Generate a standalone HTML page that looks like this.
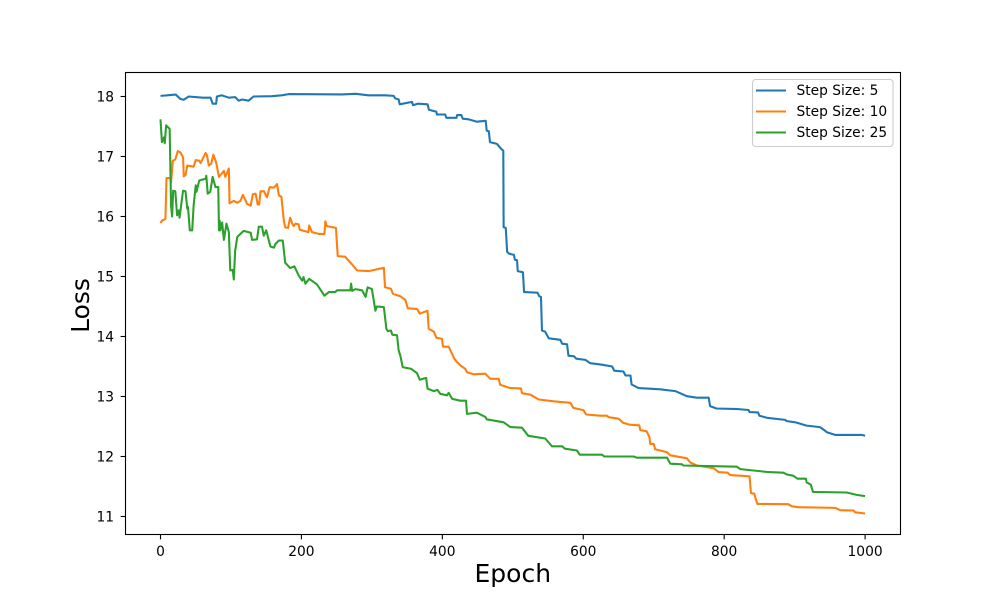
<!DOCTYPE html>
<html>
<head>
<meta charset="utf-8">
<title>Loss vs Epoch</title>
<style>
html,body{margin:0;padding:0;background:#fff;width:1000px;height:600px;overflow:hidden}
svg{display:block}
text{font-family:"DejaVu Sans","Liberation Sans",sans-serif;fill:#000}
</style>
</head>
<body>
<svg id="chart" xmlns="http://www.w3.org/2000/svg" width="1000" height="600" viewBox="0 0 1000 600">
  <rect x="0" y="0" width="1000" height="600" fill="#fff"/>
  <g id="series"></g>
  <g id="ticks"></g>
  <rect x="125.5" y="72.5" width="775" height="462" fill="none" stroke="#000" stroke-width="1.1"/>
  <text x="512.8" y="582" font-size="25" text-anchor="middle">Epoch</text>
  <text transform="translate(89 305.5) rotate(-90)" font-size="25" text-anchor="middle">Loss</text>
  <g id="legend">
    <rect x="752.5" y="79.5" width="140.5" height="67" rx="3" fill="#fff" fill-opacity="0.8" stroke="#ccc" stroke-width="1.1"/>
    <g>
      <line x1="756" x2="786" y1="90.5" y2="90.5" stroke="#1f77b4" stroke-width="2.08"/>
      <text x="796.5" y="95" font-size="13.8">Step Size: 5</text>
    </g>
    <g>
      <line x1="756" x2="786" y1="111.5" y2="111.5" stroke="#ff7f0e" stroke-width="2.08"/>
      <text x="796.5" y="116" font-size="13.8">Step Size: 10</text>
    </g>
    <g>
      <line x1="756" x2="786" y1="132.5" y2="132.5" stroke="#2ca02c" stroke-width="2.08"/>
      <text x="796.5" y="137" font-size="13.8">Step Size: 25</text>
    </g>
  </g>
</svg>
<script>
const xTickValues = [0, 200, 400, 600, 800, 1000];
const yTickValues = [11, 12, 13, 14, 15, 16, 17, 18];

const blueEpochs = [0,10,19,22,28,33,40,60,71,74,79,80,87,97,106,111,116,125,132,158,172,182,258,277,295,319,331,333,338,339.5,357,358.4,365,379,381,391.5,392.4,404,405.7,420,421,427,429,437,449,461.5,463,466,467.6,477.5,484,486.5,487,490,492,495,501.6,503,506,507,514.4,516,535,537.6,540,541.4,546,551,567.4,570,577,579,587,590,603,610,626.5,641,644,657,660,667,668.6,678.6,709,730.6,747,761,778,780,789,820,834.6,836,848,850,860.6,886.6,889,900.8,917,936,942,945.7,957.5,995,1000];
const blueLoss = [18.01,18.02,18.03,18.03,17.96,17.945,18.0,17.98,17.98,17.88,17.88,18.0,18.02,17.98,17.99,17.93,17.95,17.93,18.0,18.005,18.02,18.04,18.035,18.045,18.02,18.02,18.01,17.97,17.95,17.87,17.91,17.855,17.88,17.87,17.78,17.745,17.7,17.7,17.645,17.645,17.69,17.69,17.63,17.62,17.58,17.595,17.43,17.42,17.24,17.21,17.12,17.1,15.82,15.81,15.41,15.38,15.36,15.28,15.27,15.09,15.07,14.74,14.73,14.67,14.66,14.1,14.08,13.97,13.945,13.88,13.87,13.68,13.67,13.63,13.61,13.555,13.53,13.5,13.43,13.417,13.35,13.35,13.2,13.14,13.12,13.09,13.005,12.98,12.98,12.84,12.8,12.79,12.775,12.74,12.735,12.68,12.645,12.61,12.59,12.57,12.515,12.49,12.44,12.405,12.36,12.36,12.345];

const orangeEpochs = [0,2,7,8.5,14,15,17.5,21,24.6,28,32,33,35.5,38,47,50,55,57,64,66,68.5,72,75,79,83,90,92,97,98,104,109,113.5,117,123,128,131,135,138,140,142,147,151,155,161,165.5,168,171.6,175,177,181,184,187,189,191.5,196,197.6,210,211,215,224.6,232.6,234,236,249,251.5,262,272,279,295.5,317,318.7,327,330,340.4,347.5,351,364,368,379,380.6,388,391.5,399.5,401,409,417,421,425.5,432.6,435,444.5,461,468,480,482,496.5,511.6,513,525,536.7,558,581.6,586,600.5,604,624,633.6,636,650,657,666,679.5,681,690,694,695,700,702,719,723.5,747,752,761,785,792,805,808.6,836,838,842.6,847,891,896,905.5,957.5,964.6,983.5,986,1000];
const orangeLoss = [15.89,15.93,15.96,16.64,16.64,16.57,16.93,16.95,17.09,17.07,16.99,16.67,16.69,16.85,16.83,16.94,16.93,16.89,17.06,17.02,16.85,16.88,17.03,16.9,16.66,16.76,16.66,16.8,16.22,16.26,16.23,16.26,16.36,16.21,16.18,16.37,16.38,16.2,16.2,16.42,16.42,16.32,16.49,16.48,16.54,16.35,16.33,15.93,15.82,15.81,15.98,15.88,15.84,15.88,15.87,15.78,15.74,15.85,15.74,15.71,15.71,15.92,15.84,15.81,15.34,15.33,15.2,15.1,15.09,15.145,14.82,14.795,14.71,14.67,14.61,14.47,14.46,14.38,14.43,14.13,14.08,13.98,13.96,13.83,13.83,13.63,13.57,13.52,13.46,13.405,13.37,13.38,13.295,13.295,13.195,13.14,13.135,13.055,13.03,12.95,12.92,12.895,12.81,12.77,12.70,12.68,12.68,12.655,12.63,12.56,12.53,12.52,12.44,12.42,12.32,12.21,12.21,12.12,12.07,12.02,11.97,11.9,11.85,11.805,11.74,11.73,11.69,11.67,11.39,11.38,11.21,11.205,11.17,11.155,11.144,11.105,11.10,11.07,11.05];

const greenEpochs = [0,2,5,6,8,13,15,16.5,18,21,23.6,26,27,32,35.5,38,39,41.6,45,47,50,51,55,64,65,67,70.6,74,78,82,83,84,85,87.5,90,93.6,97,99,102.6,104,106,109,118,128,130,137,139.5,144,146.6,150,156,161,163,168,173.5,177,184,190,196,201,203,205.7,211,222,232.6,239,248,250.6,269.5,270.5,272,276.6,286,291,294,300,305,307,317,320.6,322.5,327,329,335.7,338,340.4,343.7,356,364,368,377,379,388,393,397,406.6,409,414,425.5,433.6,435,449,461,463,487,496.5,513,522,546,555.6,570,574,591,595,610,626.5,630,671.5,676,719,723.5,740,742,818,823,863,884,889,898,904,916,917,923,926,974,988,1000];
const greenLoss = [17.62,17.24,17.32,17.22,17.52,17.46,16.18,16.0,16.43,16.42,16.02,16.1,15.98,16.43,16.42,16.13,16.16,15.77,15.77,16.18,16.52,16.41,16.6,16.63,16.68,16.38,16.41,16.66,16.49,16.49,15.77,15.93,15.77,15.9,15.61,15.88,15.74,15.1,15.11,14.95,15.43,15.66,15.76,15.73,15.61,15.62,15.83,15.83,15.68,15.77,15.5,15.48,15.54,15.6,15.6,15.23,15.14,15.17,15.02,14.93,14.99,14.88,14.96,14.87,14.68,14.74,14.74,14.77,14.77,14.88,14.76,14.79,14.77,14.66,14.82,14.79,14.43,14.5,14.49,14.13,14.09,14.1,14.03,14.02,13.77,13.68,13.49,13.46,13.39,13.28,13.31,13.13,13.09,13.11,13.045,13.02,13.06,12.96,12.93,12.93,12.71,12.73,12.66,12.62,12.57,12.49,12.48,12.345,12.3,12.17,12.17,12.13,12.10,12.03,12.03,12.03,12.0,12.0,11.98,11.98,11.88,11.87,11.85,11.83,11.79,11.74,11.73,11.7,11.68,11.63,11.63,11.57,11.53,11.41,11.40,11.36,11.34];

const SVG_NS = 'http://www.w3.org/2000/svg';
const xScale = v => 160.5 + (v / 1000) * 704.6;
const yScale = v => 96.5 + (18 - v) * 60;

function buildPoints(epochs, losses) {
  return epochs.map((e, i) => xScale(e).toFixed(2) + ',' + yScale(losses[i]).toFixed(2)).join(' ');
}

function drawSeries(epochs, losses, color, name) {
  const line = document.createElementNS(SVG_NS, 'polyline');
  
  
  line.setAttribute('points', buildPoints(epochs, losses));
  line.setAttribute('fill', 'none');
  line.setAttribute('stroke', color);
  line.setAttribute('stroke-width', '2.08');
  line.setAttribute('stroke-linejoin', 'round');
  document.getElementById('series').appendChild(line);
}

drawSeries(blueEpochs, blueLoss, '#1f77b4', 'series-step-size-5');
drawSeries(orangeEpochs, orangeLoss, '#ff7f0e', 'series-step-size-10');
drawSeries(greenEpochs, greenLoss, '#2ca02c', 'series-step-size-25');

const tickGroup = document.getElementById('ticks');

xTickValues.forEach(v => {
  const x = xScale(v);
  const mark = document.createElementNS(SVG_NS, 'line');
  
  
  mark.setAttribute('x1', x);
  mark.setAttribute('x2', x);
  mark.setAttribute('y1', 534.5);
  mark.setAttribute('y2', 539.4);
  mark.setAttribute('stroke', '#000');
  mark.setAttribute('stroke-width', '1.1');
  tickGroup.appendChild(mark);
  const label = document.createElementNS(SVG_NS, 'text');
  
  
  label.setAttribute('x', x);
  label.setAttribute('y', 556);
  label.setAttribute('font-size', '13.8');
  label.setAttribute('text-anchor', 'middle');
  label.textContent = v;
  tickGroup.appendChild(label);
});

yTickValues.forEach(v => {
  const y = yScale(v);
  const mark = document.createElementNS(SVG_NS, 'line');
  
  
  mark.setAttribute('x1', 120.6);
  mark.setAttribute('x2', 125.5);
  mark.setAttribute('y1', y);
  mark.setAttribute('y2', y);
  mark.setAttribute('stroke', '#000');
  mark.setAttribute('stroke-width', '1.1');
  tickGroup.appendChild(mark);
  const label = document.createElementNS(SVG_NS, 'text');
  
  
  label.setAttribute('x', 114);
  label.setAttribute('y', y + 5);
  label.setAttribute('font-size', '13.8');
  label.setAttribute('text-anchor', 'end');
  label.textContent = v;
  tickGroup.appendChild(label);
});
</script>
</body>
</html>
